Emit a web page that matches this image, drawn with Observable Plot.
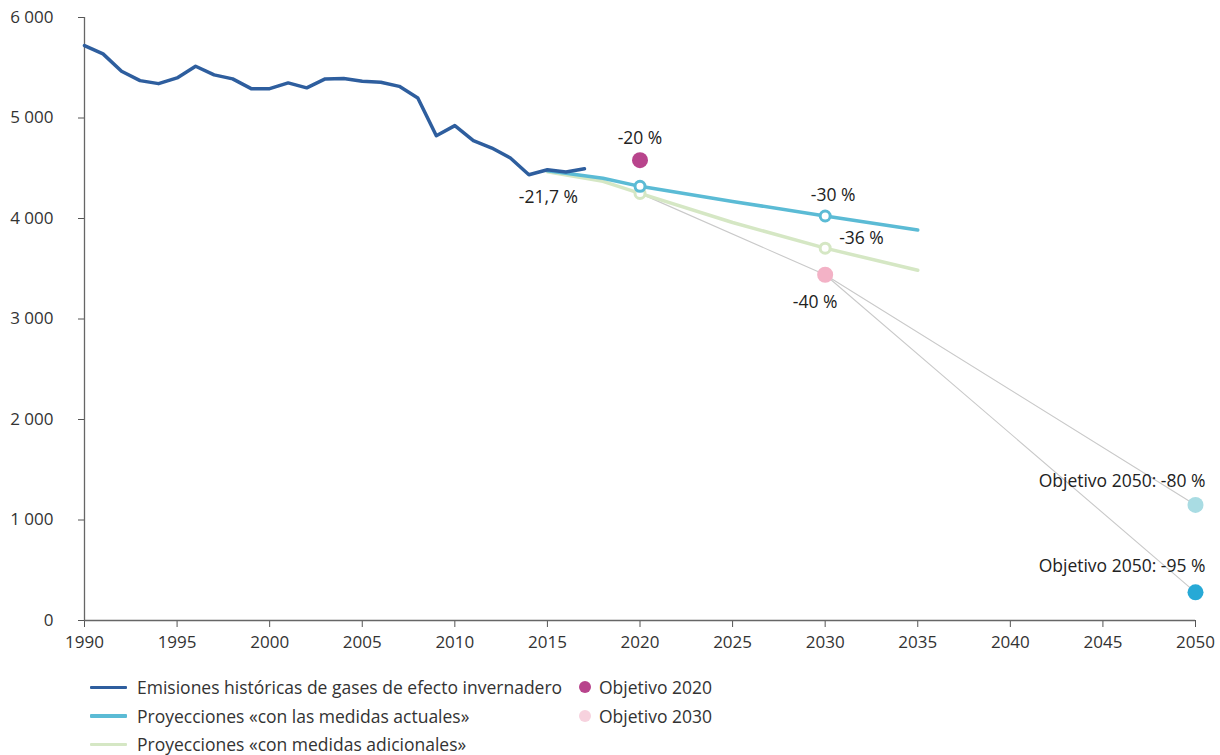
<!DOCTYPE html>
<html>
<head>
<meta charset="utf-8">
<script src="https://cdn.jsdelivr.net/npm/d3@7"></script>
<script src="https://cdn.jsdelivr.net/npm/@observablehq/plot@0.6"></script>
<style>
  body { margin: 0; background: #fff; font-family: "Open Sans", sans-serif; color: #333; overflow: hidden; }
  #legend { display: flex; padding-top: 18px; font-size: 17.5px; color: #333; }
  .col1 { padding-left: 90px; width: 489px; }
  .row { height: 28.5px; display: flex; align-items: center; white-space: nowrap; }
  .sw { width: 37px; height: 3.5px; margin-right: 10px; border-radius: 1px; flex: none; }
  .dot { width: 12px; height: 12px; border-radius: 50%; margin-right: 8px; flex: none; }
</style>
</head>
<body>
<div id="chart"></div>
<div id="legend"></div>
<script>
// ---- data ----
const histYears = [1990,1991,1992,1993,1994,1995,1996,1997,1998,1999,2000,2001,2002,2003,2004,2005,2006,2007,2008,2009,2010,2011,2012,2013,2014,2015,2016,2017];
const histValues = [5721,5638,5465,5372,5342,5399,5515,5429,5389,5292,5292,5349,5300,5389,5392,5366,5355,5315,5200,4824,4924,4774,4701,4602,4435,4485,4462,4495];

const projYears = [2015, 2018, 2020, 2025, 2030, 2035];
const currentMeasures = [4475, 4400, 4320, 4170, 4025, 3885];
const additionalMeasures = [4465, 4370, 4250, 3960, 3705, 3485];

const targetYears = [2020, 2030, 2050, 2050];
const targetValues = [4580, 3440, 1150, 280];
const targetColors = ["#b8448c", "#f3b2c6", "#a9dce3", "#27a9d6"];

const markerYears = [2020, 2030];
const currentMarkers = [4320, 4025];
const additionalMarkers = [4250, 3705];

const seriesNames = [
  "Emisiones históricas de gases de efecto invernadero",
  "Proyecciones «con las medidas actuales»",
  "Proyecciones «con medidas adicionales»"
];
const seriesColors = ["#2e5e9e", "#5bbbd5", "#d5e7c4"];
const targetNames = ["Objetivo 2020", "Objetivo 2030"];
const legendTargetColors = ["#b8448c", "#f7d2de"];

const xTicks = [1990,1995,2000,2005,2010,2015,2020,2025,2030,2035,2040,2045,2050];
const yTicks = [0,1000,2000,3000,4000,5000,6000];

// ---- tables ----
const hist = histYears.map((x, i) => ({x, y: histValues[i]}));
const cur = projYears.map((x, i) => ({x, y: currentMeasures[i]}));
const add = projYears.map((x, i) => ({x, y: additionalMeasures[i]}));
const targets = targetYears.map((x, i) => ({x, y: targetValues[i], c: targetColors[i]}));
const curM = markerYears.map((x, i) => ({x, y: currentMarkers[i]}));
const addM = markerYears.map((x, i) => ({x, y: additionalMarkers[i]}));

const connectors = [
  {x1: markerYears[0], y1: additionalMarkers[0], x2: targetYears[1], y2: targetValues[1], s: 7, e: 9},
  {x1: targetYears[1], y1: targetValues[1], x2: targetYears[2], y2: targetValues[2], s: 13, e: 17},
  {x1: targetYears[1], y1: targetValues[1], x2: targetYears[3], y2: targetValues[3], s: 13, e: 17}
];

const labels = [
  {x: 2015, y: histValues[25], t: "-21,7 %", dx: 1, dy: 28, a: "middle"},
  {x: targetYears[0], y: targetValues[0], t: "-20 %", dx: 0, dy: -22, a: "middle"},
  {x: markerYears[1], y: currentMarkers[1], t: "-30 %", dx: 8, dy: -21, a: "middle"},
  {x: markerYears[1], y: additionalMarkers[1], t: "-36 %", dx: 14, dy: -10, a: "start"},
  {x: targetYears[1], y: targetValues[1], t: "-40 %", dx: -10, dy: 28, a: "middle"},
  {x: targetYears[2], y: targetValues[2], t: "Objetivo 2050: -80 %", dx: 10, dy: -24, a: "end"},
  {x: targetYears[3], y: targetValues[3], t: "Objetivo 2050: -95 %", dx: 10, dy: -26, a: "end"}
];

const fmt = d => d3.format(",")(d).replace(/,/g, " ");

const chart = Plot.plot({
  width: 1220,
  height: 655,
  marginLeft: 84,
  marginRight: 25,
  marginTop: 17,
  marginBottom: 35,
  style: {fontFamily: "Open Sans, sans-serif", fontSize: "17px", color: "#333", background: "#fff", overflow: "visible"},
  x: {domain: [1990, 2050], label: null},
  y: {domain: [0, 6000], label: null},
  marks: [
    Plot.axisX({ticks: xTicks, tickFormat: d => String(d), tickSize: 7, tickPadding: 8, stroke: "#555", fill: "#333", label: null, fontSize: 17}),
    Plot.axisY({ticks: yTicks, tickFormat: fmt, tickSize: 6, tickPadding: 25, stroke: "#555", fill: "#333", label: null, fontSize: 17}),
    Plot.ruleY([0], {stroke: "#666", strokeWidth: 1.3}),
    Plot.ruleX([1990], {stroke: "#666", strokeWidth: 1.3}),
    Plot.arrow(connectors, {x1: "x1", y1: "y1", x2: "x2", y2: "y2", headLength: 0, insetStart: "s", insetEnd: "e", stroke: "#c9c9c9", strokeWidth: 1.1}),
    Plot.line(add, {x: "x", y: "y", stroke: seriesColors[2], strokeWidth: 3.5}),
    Plot.line(cur, {x: "x", y: "y", stroke: seriesColors[1], strokeWidth: 3.5}),
    Plot.line(hist, {x: "x", y: "y", stroke: seriesColors[0], strokeWidth: 3.5}),
    Plot.dot(addM, {x: "x", y: "y", r: 5, fill: "#fff", stroke: seriesColors[2], strokeWidth: 3}),
    Plot.dot(curM, {x: "x", y: "y", r: 5, fill: "#fff", stroke: seriesColors[1], strokeWidth: 3}),
    Plot.dot(targets, {x: "x", y: "y", r: 8, fill: "c"}),
    ...labels.map(l => Plot.text([l], {x: "x", y: "y", text: "t", dx: l.dx, dy: l.dy, textAnchor: l.a, fill: "#222", fontSize: 17.5}))
  ]
});
document.getElementById("chart").appendChild(chart);

// ---- legend ----
const legend = document.getElementById("legend");
const c1 = document.createElement("div"); c1.className = "col1";
seriesNames.forEach((n, i) => {
  const r = document.createElement("div"); r.className = "row";
  r.innerHTML = `<span class="sw" style="background:${seriesColors[i]}"></span><span>${n}</span>`;
  c1.appendChild(r);
});
const c2 = document.createElement("div");
targetNames.forEach((n, i) => {
  const r = document.createElement("div"); r.className = "row";
  r.innerHTML = `<span class="dot" style="background:${legendTargetColors[i]}"></span><span>${n}</span>`;
  c2.appendChild(r);
});
legend.appendChild(c1); legend.appendChild(c2);
</script>
</body>
</html>
